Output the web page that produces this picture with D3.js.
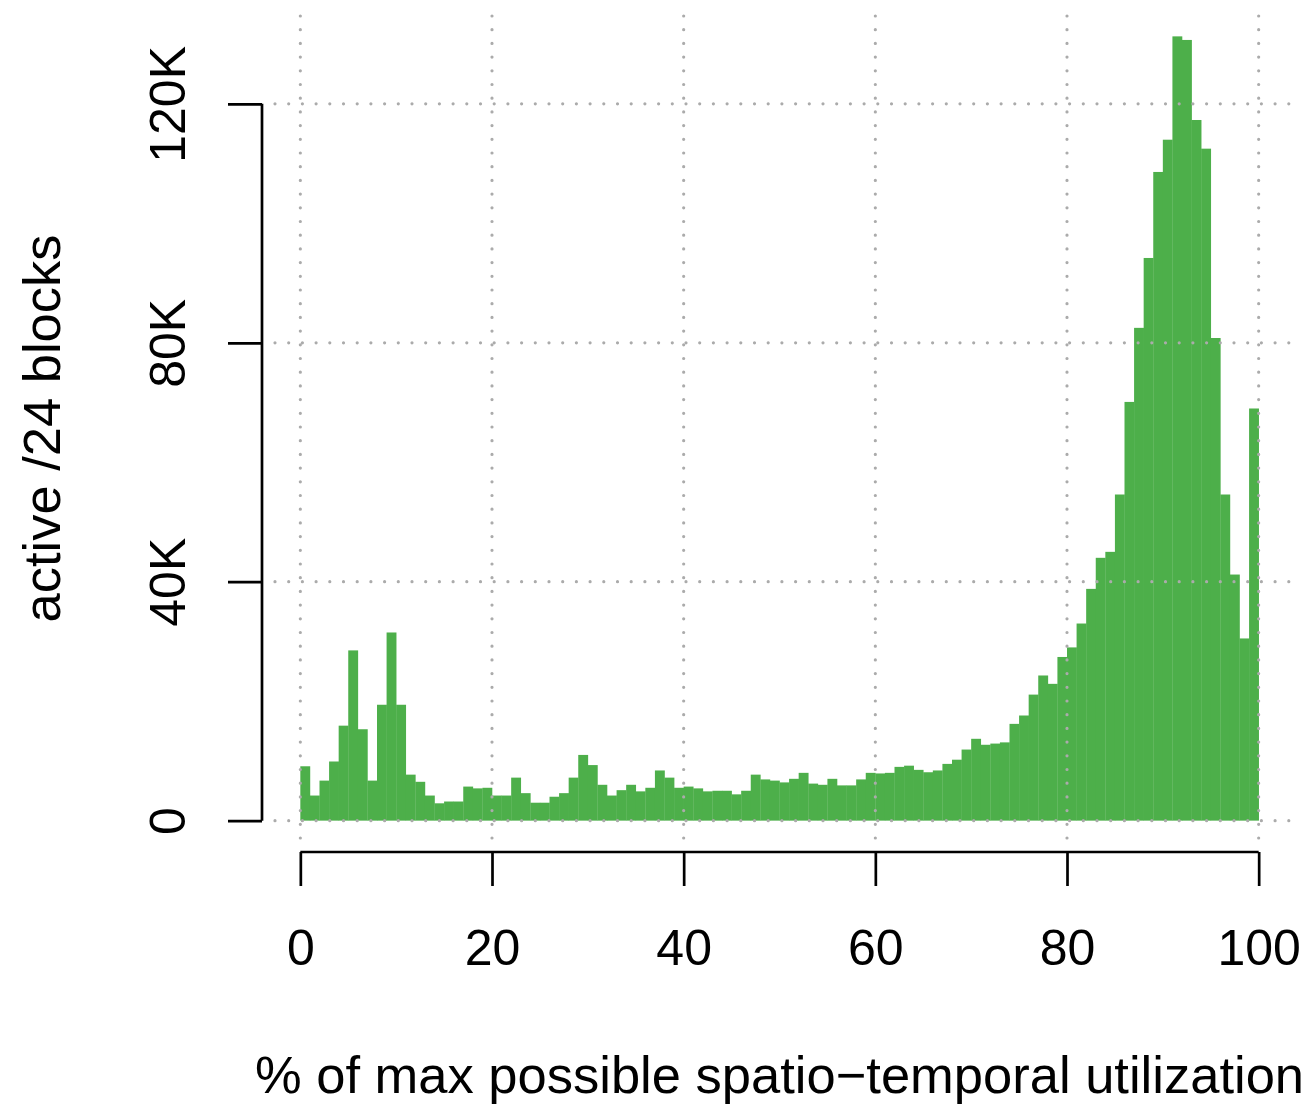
<!DOCTYPE html>
<html>
<head>
<meta charset="utf-8">
<script src="https://cdn.jsdelivr.net/npm/d3@7"></script>
<style>
  html, body { margin: 0; padding: 0; background: #ffffff; }
  svg { display: block; }
  text { font-family: "Liberation Sans", Arial, Helvetica, sans-serif; fill: #000; }
</style>
</head>
<body>
<script>
// Histogram of /24 blocks by spatio-temporal utilization (1% bins)
const binStarts = d3.range(0, 100, 1);
const counts = [
  9100, 4200, 6700, 9900, 15900, 28500, 15300, 6700, 19400, 31500,
  19400, 7700, 6500, 4200, 2900, 3200, 3200, 5700, 5400, 5500,
  4200, 4200, 7200, 4600, 3000, 3000, 4000, 4600, 7200, 11000,
  9300, 6000, 4200, 5100, 6000, 4900, 5500, 8400, 7200, 5500,
  5700, 5400, 4900, 5000, 5000, 4400, 5000, 7700, 6900, 6700,
  6400, 7000, 8000, 6200, 6000, 7000, 5900, 5900, 6900, 8000,
  7900, 8000, 9000, 9200, 8500, 8100, 8400, 9500, 10200, 11900,
  13700, 12700, 12900, 13100, 16200, 17600, 21100, 24300, 22900, 27400,
  29000, 33000, 38800, 44000, 45000, 54600, 70100, 82500, 94200, 108600,
  114000, 131300, 130700, 117300, 112500, 80800, 54600, 41200, 30500, 69000
];
const xTicks = [0, 20, 40, 60, 80, 100];
const yTicks = [0, 40000, 80000, 120000];
const yTickLabels = ["0", "40K", "80K", "120K"];
const xTitle = "% of max possible spatio\u2212temporal utilization";
const yTitle = "active /24 blocks";

const W = 1313, H = 1106;
const plot = { left: 262, right: 1297, top: 5, bottom: 852 };
const barColor = "#4daf4a";
const gridColor = "#ababab";
const tickFont = 50;
const titleFont = 52.5;

const svg = d3.select("body").append("svg")
  .attr("width", W).attr("height", H);

// axis ranges padded by 4% on each side
const xPad = 0.04 * 100;
const x = d3.scaleLinear().domain([0 - xPad, 100 + xPad]).range([plot.left, plot.right]);
const yMax = d3.max(counts);
const yPad = 0.04 * yMax;
const y = d3.scaleLinear().domain([-yPad, yMax + yPad]).range([plot.bottom, plot.top]);

// bars
svg.append("g").selectAll("rect")
  .data(binStarts)
  .join("rect")
  .attr("x", d => x(d))
  .attr("width", d => x(d + 1) - x(d) + 0.3)
  .attr("y", (d, i) => y(counts[i]))
  .attr("height", (d, i) => y(0) - y(counts[i]))
  .attr("fill", barColor);

// dotted grid drawn over the bars
const grid = svg.append("g")
  .attr("stroke", gridColor)
  .attr("stroke-width", 3.2)
  .attr("stroke-linecap", "round")
  .attr("stroke-dasharray", "0 13.7");
grid.selectAll("line.v")
  .data(xTicks)
  .join("line")
  .attr("class", "v")
  .attr("x1", d => x(d)).attr("x2", d => x(d))
  .attr("y1", plot.bottom - 14).attr("y2", plot.top);
grid.selectAll("line.h")
  .data(yTicks)
  .join("line")
  .attr("class", "h")
  .attr("y1", d => y(d)).attr("y2", d => y(d))
  .attr("x1", plot.left + 13).attr("x2", plot.right);

// x axis
const xAxis = svg.append("g")
  .attr("transform", `translate(0,${plot.bottom})`)
  .call(d3.axisBottom(x).tickValues(xTicks).tickSize(34).tickSizeOuter(0).tickPadding(43));
xAxis.select(".domain")
  .attr("d", `M${x(0)},0H${x(100)}`)
  .attr("stroke", "#000").attr("stroke-width", 2.7);
xAxis.selectAll(".tick line").attr("stroke", "#000").attr("stroke-width", 2.7);
xAxis.selectAll(".tick text")
  .attr("font-size", tickFont)
  .attr("font-family", "Liberation Sans, Arial, sans-serif")
  .attr("fill", "#000");

// y axis
const yAxis = svg.append("g")
  .attr("transform", `translate(${plot.left},0)`)
  .call(d3.axisLeft(y).tickValues(yTicks).tickFormat((d, i) => yTickLabels[i]).tickSize(34).tickSizeOuter(0));
yAxis.select(".domain")
  .attr("d", `M0,${y(0)}V${y(120000)}`)
  .attr("stroke", "#000").attr("stroke-width", 2.7);
yAxis.selectAll(".tick line").attr("stroke", "#000").attr("stroke-width", 2.7);
yAxis.selectAll(".tick text")
  .attr("font-size", tickFont)
  .attr("font-family", "Liberation Sans, Arial, sans-serif")
  .attr("fill", "#000")
  .attr("x", null).attr("dy", null)
  .attr("text-anchor", "middle")
  .attr("transform", `translate(${185 - plot.left},0) rotate(-90)`);

// axis titles
svg.append("text")
  .attr("x", (plot.left + plot.right) / 2)
  .attr("y", 1093)
  .attr("text-anchor", "middle")
  .attr("font-size", titleFont)
  .text(xTitle);

svg.append("text")
  .attr("transform", `translate(60,${(plot.top + plot.bottom) / 2}) rotate(-90)`)
  .attr("text-anchor", "middle")
  .attr("font-size", titleFont)
  .text(yTitle);
</script>
</body>
</html>
